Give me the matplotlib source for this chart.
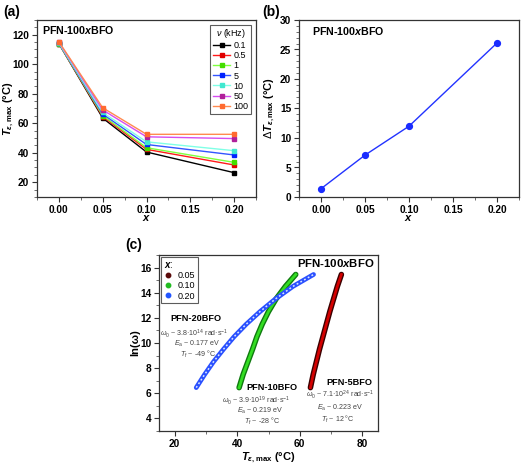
import matplotlib
matplotlib.use("Agg")
import matplotlib.pyplot as plt
from matplotlib.ticker import MultipleLocator
from matplotlib.lines import Line2D

plt.rcParams['font.family'] = ['Liberation Sans', 'DejaVu Sans']
plt.rcParams['mathtext.fontset'] = 'custom'
plt.rcParams['mathtext.rm'] = 'Liberation Sans'
plt.rcParams['mathtext.it'] = 'Liberation Sans:italic'
plt.rcParams['mathtext.bf'] = 'Liberation Sans:bold'
plt.rcParams['mathtext.bfit'] = 'Liberation Sans:italic:bold'

# ---- data ----
x_comp = [0.00, 0.05, 0.10, 0.20]
freqs = ['0.1', '0.5', '1', '5', '10', '50', '100']
t_max = {
    '0.1': [114.0, 63.5, 40.5, 26.5],
    '0.5': [114.0, 64.5, 42.3, 31.7],
    '1':   [114.0, 65.2, 43.4, 33.5],
    '5':   [114.2, 66.2, 45.6, 38.5],
    '10':  [114.5, 67.3, 47.4, 41.4],
    '50':  [115.0, 69.0, 50.8, 49.6],
    '100': [115.2, 70.5, 52.5, 52.5],
}
delta_t = [1.4, 7.1, 12.0, 26.1]

ln_w = [6.45, 7.5, 8.5, 9.5, 10.5, 11.5, 12.5, 13.5, 14.5, 15.45]
t_5bfo = [63.4, 64.3, 65.3, 66.3, 67.4, 68.5, 69.6, 70.8, 72.0, 73.3]
t_10bfo = [40.6, 41.9, 43.4, 44.9, 46.3, 48.0, 50.0, 52.4, 55.4, 58.7]
t_20bfo = [26.9, 29.6, 32.4, 35.6, 39.0, 42.9, 47.3, 52.2, 57.8, 64.4]

line_cols = ['#000000', '#ff1a1a', '#80ff40', '#3355ff', '#80ffe6', '#d64df0', '#ff8a50']
mark_cols = ['#000000', '#e00000', '#44dd00', '#0022ff', '#40e8d0', '#b0209a', '#ff6a30']

W, H = 521, 465
fig = plt.figure(figsize=(W / 100, H / 100), dpi=100)


def px_axes(l, t, r, b):
    return fig.add_axes([l / W, 1 - b / H, (r - l) / W, (b - t) / H])


def style(ax):
    for s in ax.spines.values():
        s.set_color('#333333')
        s.set_linewidth(0.9)
    ax.tick_params(which='major', direction='out', length=3.5, width=0.8,
                   labelsize=7.3, colors='#333333', labelcolor='black', pad=2)
    ax.tick_params(which='minor', direction='out', length=2, width=0.6, colors='#555555')
    for lab in ax.get_xticklabels() + ax.get_yticklabels():
        lab.set_fontweight('bold')


tlabel = r'$\mathbfit{T}_{\mathbfit{ε}\mathbf{,max}}$ (°C)'

# ---- (a) ----
axa = px_axes(37, 20, 256, 197)
for i, f in enumerate(freqs):
    axa.plot(x_comp, t_max[f], '-s', color=line_cols[i], lw=1.0, ms=2.8,
             mfc=mark_cols[i], mec=mark_cols[i], label=f)
axa.set_xlim(-0.025, 0.225)
axa.set_ylim(10, 130)
axa.xaxis.set_minor_locator(MultipleLocator(0.025))
axa.yaxis.set_major_locator(MultipleLocator(20))
axa.yaxis.set_minor_locator(MultipleLocator(5))
axa.set_xticks([0.0, 0.05, 0.10, 0.15, 0.20])
axa.set_xticklabels(['0.00', '0.05', '0.10', '0.15', '0.20'])
style(axa)
axa.set_xlabel(r'$\mathbfit{x}$', fontsize=8, labelpad=-1)
axa.set_ylabel(tlabel, fontsize=8, fontweight='bold')
axa.yaxis.set_label_coords(-0.095, 0.5)
axa.text(0.025, 0.945, r'PFN-100$\mathbfit{x}$BFO', transform=axa.transAxes,
         fontsize=7.7, fontweight='bold', ha='left', va='center')
lega = axa.legend(title=r'$\mathit{ν}$ (kHz)', loc='upper right', fontsize=6.5,
                  title_fontsize=6.5, frameon=True, fancybox=False, edgecolor='#333333',
                  borderaxespad=0.5, borderpad=0.3, labelspacing=0.12,
                  handlelength=1.9, handletextpad=0.4)
lega.get_frame().set_linewidth(0.8)

# ---- (b) ----
axb = px_axes(299, 20, 519, 197)
axb.plot(x_comp, delta_t, '-o', color='#2233ff', lw=1.0, ms=4.2,
         mfc='#1a2cff', mec='#1a2cff')
axb.set_xlim(-0.025, 0.225)
axb.set_ylim(0, 30)
axb.set_xticks([0.0, 0.05, 0.10, 0.15, 0.20])
axb.set_xticklabels(['0.00', '0.05', '0.10', '0.15', '0.20'])
axb.xaxis.set_minor_locator(MultipleLocator(0.025))
axb.yaxis.set_major_locator(MultipleLocator(5))
axb.yaxis.set_minor_locator(MultipleLocator(1))
style(axb)
axb.set_xlabel(r'$\mathbfit{x}$', fontsize=8, labelpad=-1)
axb.set_ylabel(r'$\mathit{Δ}$' + tlabel, fontsize=8, fontweight='bold')
axb.yaxis.set_label_coords(-0.1, 0.5)
axb.text(0.06, 0.94, r'PFN-100$\mathbfit{x}$BFO', transform=axb.transAxes,
         fontsize=7.7, fontweight='bold', ha='left', va='center')

# ---- (c) ----
axc = px_axes(159, 255, 378, 431)
curves = [
    ('0.05', t_5bfo, '#3a0000', '#d40000', '#5a0a0a'),
    ('0.10', t_10bfo, '#0f7a0f', '#33dd22', '#22bb22'),
    ('0.20', t_20bfo, '#2a50ff', '#d8e6ff', '#2255ff'),
]
for lab, tv, edge, inner, legc in curves:
    if lab == '0.20':
        axc.plot(tv, ln_w, '-', color=edge, lw=3.4, solid_capstyle='round')
        axc.plot(tv, ln_w, color=inner, lw=1.1, ls=(0, (1.2, 1.6)))
    else:
        axc.plot(tv, ln_w, '-', color=edge, lw=4.0, solid_capstyle='round')
        axc.plot(tv, ln_w, '-', color=inner, lw=2.0)
axc.set_xlim(15, 85)
axc.set_ylim(3, 17)
axc.xaxis.set_major_locator(MultipleLocator(20))
axc.xaxis.set_minor_locator(MultipleLocator(10))
axc.yaxis.set_major_locator(MultipleLocator(2))
axc.yaxis.set_minor_locator(MultipleLocator(1))
style(axc)
axc.set_xlabel(tlabel, fontsize=8, fontweight='bold', labelpad=1)
axc.set_ylabel('ln(ω)', fontsize=8, fontweight='bold')
axc.yaxis.set_label_coords(-0.085, 0.5)

handles = [Line2D([], [], ls='none', marker='o', ms=3.2, mfc=c[4], mec=c[4]) for c in curves]
legc = axc.legend(handles, [c[0] for c in curves], title=r'$\mathbfit{x}$:', loc='upper left',
                  fontsize=6.5, title_fontsize=7, frameon=True, fancybox=False,
                  edgecolor='#333333', borderaxespad=0.25, borderpad=0.25,
                  labelspacing=0.15, handlelength=1.0, handletextpad=0.6,
                  alignment='left')
legc.get_frame().set_linewidth(0.8)

axc.text(0.985, 0.955, r'PFN-100$\mathbfit{x}$BFO', transform=axc.transAxes,
         fontsize=8.2, fontweight='bold', ha='right', va='center')

small = dict(fontsize=5.1, color='#444444', ha='center', va='center')
axc.text(26.7, 11.95, 'PFN-20BFO', fontsize=6.6, fontweight='bold', ha='center', va='center')
axc.text(26.3, 10.75, r'$\mathit{ω}_0$ ~ 3.8·10$^{14}$ rad·s$^{-1}$', **small)
axc.text(27.1, 9.95, r'$\mathit{E}_\mathrm{a}$ ~ 0.177 eV', **small)
axc.text(27.6, 9.1, r'$\mathit{T}_\mathrm{f}$ ~ -49 °C', **small)

axc.text(51.0, 6.46, 'PFN-10BFO', fontsize=6.6, fontweight='bold', ha='center', va='center')
axc.text(46.2, 5.4, r'$\mathit{ω}_0$ ~ 3.9·10$^{19}$ rad·s$^{-1}$', **small)
axc.text(47.2, 4.6, r'$\mathit{E}_\mathrm{a}$ ~ 0.219 eV', **small)
axc.text(48.0, 3.8, r'$\mathit{T}_\mathrm{f}$ ~ -28 °C', **small)

axc.text(75.8, 6.86, 'PFN-5BFO', fontsize=6.6, fontweight='bold', ha='center', va='center')
axc.text(72.9, 5.88, r'$\mathit{ω}_0$ ~ 7.1·10$^{24}$ rad·s$^{-1}$', **small)
axc.text(72.8, 4.85, r'$\mathit{E}_\mathrm{a}$ ~ 0.223 eV', **small)
axc.text(72.2, 3.9, r'$\mathit{T}_\mathrm{f}$ ~ 12 °C', **small)

# panel letters
fig.text(3 / W, 1 - 12 / H, '(a)', fontsize=10, fontweight='bold', ha='left', va='center')
fig.text(262 / W, 1 - 12 / H, '(b)', fontsize=10, fontweight='bold', ha='left', va='center')
fig.text(125 / W, 1 - 245 / H, '(c)', fontsize=10, fontweight='bold', ha='left', va='center')

fig.savefig('out.png', dpi=100)
